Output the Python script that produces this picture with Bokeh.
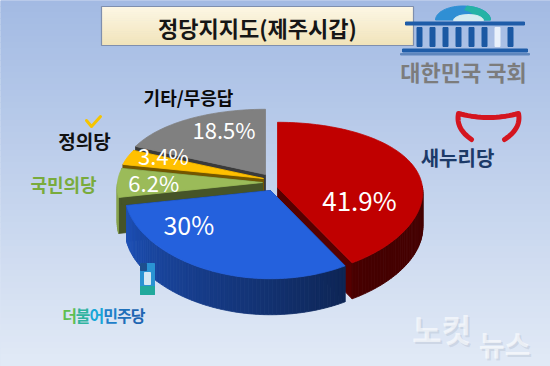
import numpy as np
from bokeh.plotting import figure
from bokeh.models import Range1d
from bokeh.embed import file_html
from bokeh.resources import INLINE
from bokeh.core.properties import value

# ---------------- data ----------------
title = "정당지지도(제주시갑)"
parties = ["새누리당", "더불어민주당", "국민의당", "정의당", "기타/무응답"]
shares = [41.9, 30.0, 6.2, 3.4, 18.5]
pct_labels = ["41.9%", "30%", "6.2%", "3.4%", "18.5%"]

# ---------------- style ----------------
FONT = value("Noto Sans CJK KR")
top_colors = ["#c00000", "#2461dd", "#9bbb59", "#ffc000", "#808080"]
explode = [(7, 2), (0, 5), (-8, -3), (-7, -7), (-5, -11)]
label_frac = [0.6, 0.6, 0.75, 0.75, 0.6]
label_nudge = [(-1, 23), (-43, -14), (0, -1), (2, -8), (4, -12)]
label_size = ["26px", "25px", "22px", "22px", "22px"]
CX, CY, A0, B0, KX, KY, DEPTH = 270, 185, 145, 75, 0.06, 0.15, 36


def hex2rgb(h):
    h = h.lstrip("#")
    return [int(h[i:i + 2], 16) for i in (0, 2, 4)]


def rgb2hex(c):
    return "#%02x%02x%02x" % tuple(int(round(max(0, min(255, v)))) for v in c)


def shade(h, f):
    return rgb2hex([v * f for v in hex2rgb(h)])


def mix(h1, h2, s):
    a, b = hex2rgb(h1), hex2rgb(h2)
    return rgb2hex([a[i] + (b[i] - a[i]) * s for i in range(3)])


def proj(t, ax, ay, r=1.0):
    tr = np.radians(t)
    u, v = np.sin(tr), -np.cos(tr)
    return ax + A0 * u * r / (1 - KX * v), ay + B0 * v * r / (1 - KY * v)


def wall_f(t):
    return float(np.clip(0.38 + 0.5 * (t - 150) / 120, 0.36, 0.9))


p = figure(width=550, height=366, x_range=Range1d(0, 550), y_range=Range1d(366, 0),
           output_backend="svg", toolbar_location=None, min_border=0,
           x_axis_location=None, y_axis_location=None)
p.grid.visible = False
p.outline_line_color = None
p.background_fill_color = "#bccdeb"
p.border_fill_color = "#bccdeb"

# background gradient
nb = 61
edges = np.linspace(0, 366, nb + 1)
bg_cols = [mix("#a2bae3", "#e2eaf6", (i + 0.5) / nb) for i in range(nb)]
p.quad(left=0, right=550, top=edges[:-1], bottom=edges[1:], fill_color=bg_cols,
       line_color=bg_cols, line_width=1)

# ---------------- title box ----------------
tb_l, tb_r, tb_t, tb_b = 101, 413, 6, 45
ne = 20
te = np.linspace(tb_t, tb_b, ne + 1)
tcols = [mix("#fdf8e6", "#f1e3ba", (i + 0.5) / ne) for i in range(ne)]
p.quad(left=tb_l, right=tb_r, top=te[:-1], bottom=te[1:], fill_color=tcols, line_color=tcols)
p.quad(left=[tb_l], right=[tb_r], top=[tb_t], bottom=[tb_b], fill_alpha=0,
       line_color="#7f8fae", line_width=1.2)
p.text(x=[(tb_l + tb_r) / 2], y=[26], text=[title], text_font=FONT, text_font_size="22px",
       text_font_style="bold", text_color="#161616", text_align="center", text_baseline="middle")

# ---------------- parliament logo ----------------
th = np.linspace(np.pi, 0, 40)
p.patch(np.r_[462.5 + 27.5 * np.cos(th)], np.r_[19.5 - 14 * np.sin(th)], color="#2f8fd4")
th2 = np.linspace(np.pi / 2.2, 0, 20)
p.patch(np.r_[462.5 + 27.5 * np.cos(th2), 462.5 + 12 * np.cos(th2[::-1])],
        np.r_[19.5 - 14 * np.sin(th2), 19.5 - 10 * np.sin(th2[::-1])], color="#25b3a5")
p.patch(np.r_[468 + 15 * np.cos(th)], np.r_[20 - 6 * np.sin(th)], color="#d6ecf0")
p.quad(left=[405], right=[524], top=[21.5], bottom=[24.5], color="#1f5ca8")
col_x = np.arange(419, 515, 13.0)
col_c = ["#1b58a3"] * len(col_x)
col_c[6] = "#e9f1fb"
p.quad(left=col_x - 2.5, right=col_x + 2.5, top=27, bottom=46, color=col_c)
p.quad(left=[402], right=[527], top=[48.5], bottom=[51.5], color="#1f5ca8")
p.quad(left=[400], right=[529], top=[53], bottom=[54.5], color="#5f86bd")
p.text(x=[463], y=[70], text=["대한민국 국회"], text_font=FONT, text_font_size="22px",
       text_font_style="bold", text_color="#7c7c7c", text_align="center", text_baseline="middle")

# ---------------- 3D pie ----------------
total = float(sum(shares))
starts = np.cumsum([0.0] + shares[:-1]) / total * 360
ends = np.cumsum(shares) / total * 360
depth_key = [-np.cos(np.radians((s + e) / 2)) for s, e in zip(starts, ends)]
order = np.argsort(depth_key)

fx, fy, fc = [], [], []


def add(xs, ys, c):
    fx.append(list(xs))
    fy.append(list(ys))
    fc.append(c)


for i in order:
    s, e = starts[i], ends[i]
    ax, ay = CX + explode[i][0], CY + explode[i][1]
    c = top_colors[i]
    # radial cut faces
    for t in (s, e):
        if abs(np.sin(np.radians(t))) < 1e-3:
            continue
        rx, ry = proj(t, ax, ay)
        add([ax, rx, rx, ax], [ay, ry, ry + DEPTH, ay + DEPTH], shade(c, 0.45))
    # outer wall (front part only)
    n = max(2, int((e - s) / 1.5) + 1)
    ts = np.linspace(s, e, n)
    for j in range(n - 1):
        tm = (ts[j] + ts[j + 1]) / 2
        if np.cos(np.radians(tm)) > 0.01:
            continue
        x0, y0 = proj(ts[j], ax, ay)
        x1, y1 = proj(ts[j + 1], ax, ay)
        add([x0, x1, x1, x0], [y0, y1, y1 + DEPTH, y0 + DEPTH], shade(c, wall_f(tm)))
    # top face
    xa, ya = proj(ts, ax, ay)
    add([ax] + list(xa), [ay] + list(ya), c)

p.patches(xs=fx, ys=fy, fill_color=fc, line_color=fc, line_width=0.8)

# percentage labels
lx, ly = [], []
for i in range(len(shares)):
    ax, ay = CX + explode[i][0], CY + explode[i][1]
    tmid = (starts[i] + ends[i]) / 2
    x, y = proj(tmid, ax, ay, label_frac[i])
    lx.append(x + label_nudge[i][0])
    ly.append(y + label_nudge[i][1])
for i in range(len(shares)):
    p.text(x=[lx[i]], y=[ly[i]], text=[pct_labels[i]], text_font=FONT,
           text_font_size=label_size[i], text_color="white", text_align="center",
           text_baseline="middle")

# ---------------- party names / logos ----------------
# 새누리당
tt = np.linspace(0, 1, 20)


def qbez(p0, p1, p2):
    return ((1 - tt) ** 2 * p0[0] + 2 * (1 - tt) * tt * p1[0] + tt ** 2 * p2[0],
            (1 - tt) ** 2 * p0[1] + 2 * (1 - tt) * tt * p1[1] + tt ** 2 * p2[1])


a1 = qbez((471, 139), (455, 128), (458, 113))
a2 = qbez((458, 113), (488, 121), (518, 113))
a3 = qbez((518, 113), (521, 128), (504, 139))
p.line(np.r_[a1[0], a2[0], a3[0]], np.r_[a1[1], a2[1], a3[1]], line_color="#d4151f",
       line_width=5, line_cap="round", line_join="round")
p.text(x=[457], y=[157], text=[parties[0]], text_font=FONT, text_font_size="20px",
       text_font_style="bold", text_color="#1c3a68", text_align="center", text_baseline="middle")

# 더불어민주당
p.quad(left=[140], right=[154], top=[263], bottom=[294], color="#2a93d3")
p.quad(left=[140], right=[146], top=[263], bottom=[270], color="#1d4f8f")
p.quad(left=[144], right=[150], top=[272], bottom=[284], color="#d5e8f4")
p.quad(left=[140], right=[154], top=[286], bottom=[294], color="#21a99c")
dm_cols = ["#5fbf4f", "#2fb3a0", "#18a7d8", "#1e80c9", "#1e70ba", "#1e66b2"]
name = parties[1]
p.text(x=[62 + 7 + 13.7 * k for k in range(len(name))], y=[314] * len(name), text=list(name),
       text_font=FONT, text_font_size="16px", text_font_style="bold", text_color=dm_cols,
       text_align="center", text_baseline="middle")

# 국민의당
p.text(x=[63], y=[183], text=[parties[2]], text_font=FONT, text_font_size="18px",
       text_font_style="bold", text_color="#79ab3c", text_align="center", text_baseline="middle")

# 정의당
p.line([86, 91, 100], [120, 126, 116], line_color="#f5c400", line_width=3, line_cap="round",
       line_join="round")
p.text(x=[84], y=[140], text=[parties[3]], text_font=FONT, text_font_size="19px",
       text_font_style="bold", text_color="#111111", text_align="center", text_baseline="middle")

# 기타/무응답
p.text(x=[188], y=[96], text=[parties[4]], text_font=FONT, text_font_size="18px",
       text_font_style="bold", text_color="#0a0a0a", text_align="center", text_baseline="middle")

# ---------------- watermark ----------------
for dx, col, al in [(2, "#9aa6b8", 0.25), (0, "#ffffff", 0.6)]:
    p.text(x=[441 + dx], y=[327 + dx], text=["노컷"], text_font=FONT, text_font_size="32px",
           text_font_style="bold", text_color=col, text_alpha=al, text_align="center",
           text_baseline="middle")
    p.text(x=[504 + dx], y=[343 + dx], text=["뉴스"], text_font=FONT, text_font_size="28px",
           text_font_style="bold", text_color=col, text_alpha=al, text_align="center",
           text_baseline="middle")

open("out.html", "w").write(file_html(p, INLINE))
